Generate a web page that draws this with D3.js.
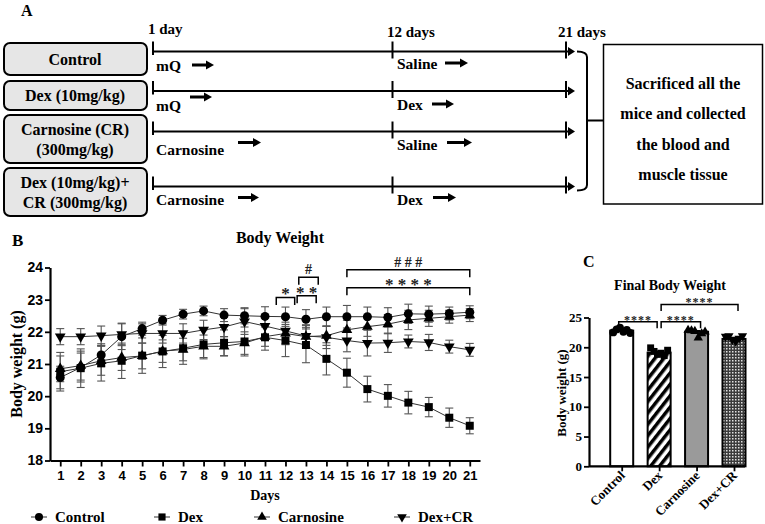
<!DOCTYPE html>
<html>
<head>
<meta charset="utf-8">
<script src="https://cdn.jsdelivr.net/npm/d3@7"></script>
<style>
  body { margin: 0; background: #fff; }
  svg { display: block; }
</style>
</head>
<body>
<div id="fig"></div>
<script>
// ---------- data ----------
const groupNames = [['Control'], ['Dex (10mg/kg)'], ['Carnosine  (CR)', '(300mg/kg)'], ['Dex (10mg/kg)+', 'CR (300mg/kg)']];
const phase1Labels = ['mQ', 'mQ', 'Carnosine', 'Carnosine'];
const phase2Labels = ['Saline', 'Dex', 'Saline', 'Dex'];
const timeLabels = ['1 day', '12 days', '21 days'];
const endNote = ['Sacrificed all the', 'mice and collected', 'the blood and', 'muscle tissue'];

const days = [1, 2, 3, 4, 5, 6, 7, 8, 9, 10, 11, 12, 13, 14, 15, 16, 17, 18, 19, 20, 21];
const yTicksB = [18, 19, 20, 21, 22, 23, 24];
const seriesNames = ['Control', 'Dex', 'Carnosine', 'Dex+CR'];
const controlMean = [20.58, 20.89, 21.28, 21.85, 22.1, 22.36, 22.55, 22.65, 22.52, 22.5, 22.48, 22.47, 22.39, 22.47, 22.47, 22.47, 22.45, 22.56, 22.55, 22.57, 22.61];
const controlErr = [0.35, 0.45, 0.35, 0.4, 0.2, 0.15, 0.15, 0.15, 0.2, 0.25, 0.3, 0.3, 0.3, 0.3, 0.35, 0.3, 0.3, 0.3, 0.25, 0.2, 0.2];
const dexMean = [20.76, 20.87, 21.02, 21.1, 21.26, 21.39, 21.49, 21.61, 21.66, 21.7, 21.83, 21.73, 21.59, 21.16, 20.73, 20.22, 20.01, 19.8, 19.66, 19.33, 19.08];
const dexErr = [0.6, 0.6, 0.55, 0.55, 0.55, 0.5, 0.5, 0.45, 0.4, 0.45, 0.4, 0.5, 0.55, 0.5, 0.45, 0.4, 0.35, 0.35, 0.3, 0.3, 0.25];
const carnMean = [20.85, 20.95, 21.1, 21.2, 21.25, 21.4, 21.45, 21.55, 21.55, 21.65, 21.85, 21.95, 21.85, 21.88, 22.06, 22.16, 22.24, 22.37, 22.42, 22.47, 22.52];
const carnErr = [0.4, 0.45, 0.45, 0.4, 0.4, 0.35, 0.35, 0.35, 0.3, 0.35, 0.3, 0.35, 0.35, 0.3, 0.3, 0.3, 0.3, 0.3, 0.25, 0.2, 0.2];
const dexcrMean = [21.85, 21.85, 21.88, 21.92, 21.95, 21.95, 21.95, 22.06, 22.15, 22.32, 22.18, 22.03, 21.87, 21.83, 21.73, 21.65, 21.66, 21.7, 21.67, 21.54, 21.44];
const dexcrErr = [0.25, 0.25, 0.3, 0.35, 0.3, 0.3, 0.3, 0.3, 0.3, 0.4, 0.35, 0.4, 0.35, 0.35, 0.35, 0.4, 0.3, 0.2, 0.25, 0.2, 0.2];
// significance marks: day span, bracket height (g), text
const sigB = [
  { from: 11.55, to: 12.45, at: 23.07, text: '*' },
  { from: 12.57, to: 13.5, at: 23.12, text: '* *' },
  { from: 12.65, to: 13.6, at: 23.7, text: '#' },
  { from: 15, to: 21, at: 23.37, text: '* * * *' },
  { from: 15, to: 21, at: 23.93, text: '# # #' }
];

const groupsC = ['Control', 'Dex', 'Carnosine', 'Dex+CR'];
const yTicksC = [0, 5, 10, 15, 20, 25];
const finalMean = [22.8, 19.1, 22.6, 21.4];
const finalErr = [0.15, 0.2, 0.2, 0.15];
const finalPoints = [
  [22.5, 23.0, 23.3, 22.6, 22.9, 22.4],
  [19.9, 19.3, 18.8, 19.0, 18.6, 19.5],
  [22.9, 22.8, 22.7, 21.6, 22.3, 22.6],
  [21.8, 21.9, 21.3, 21.0, 21.5, 21.9]
];
const sigC = [
  { a: 'Control', b: 'Dex', at: 24.3, text: '****' },
  { a: 'Dex', b: 'Carnosine', at: 24.3, text: '****' },
  { a: 'Dex', b: 'Dex+CR', at: 27.2, text: '****' }
];

// ---------- setup ----------
const W = 765, H = 524;
const serif = '"Liberation Serif", "Times New Roman", serif';
const sans = '"Liberation Sans", Arial, sans-serif';

const svg = d3.select('#fig').append('svg').attr('width', W).attr('height', H);
svg.append('rect').attr('width', W).attr('height', H).attr('fill', '#fff');

function boldText(sel, x, y, str, size, anchor, font) {
  return sel.append('text')
    .attr('x', x).attr('y', y)
    .attr('text-anchor', anchor || 'start')
    .style('font-family', font || serif)
    .style('font-weight', 'bold')
    .style('font-size', size + 'px')
    .attr('fill', '#000')
    .text(str);
}

function shortArrow(sel, x0, x1, y) {
  sel.append('line').attr('x1', x0).attr('x2', x1 - 6).attr('y1', y).attr('y2', y)
    .attr('stroke', '#000').attr('stroke-width', 3);
  sel.append('path').attr('d', `M${x1 - 8},${y - 4.5}L${x1},${y}L${x1 - 8},${y + 4.5}Z`).attr('fill', '#000');
}

// ---------- panel A ----------
const gA = svg.append('g');
boldText(gA, 21, 16, 'A', 16);

const boxRows = [[43, 75], [81, 110], [115, 163], [168, 216]];
const lineY = [51.5, 91, 131.5, 186.5];
const tStart = 153, tMid = 392.5, tEnd = 566;

boxRows.forEach((r, i) => {
  gA.append('rect').attr('x', 4).attr('y', r[0]).attr('width', 143).attr('height', r[1] - r[0])
    .attr('rx', 6).attr('fill', '#e6e6e6').attr('stroke', '#000').attr('stroke-width', 2);
  const lines = groupNames[i];
  const cy = (r[0] + r[1]) / 2;
  lines.forEach((t, j) => {
    boldText(gA, 75, cy + (j - (lines.length - 1) / 2) * 20 + 5.5, t, 16, 'middle');
  });
  const y = lineY[i];
  gA.append('line').attr('x1', tStart).attr('x2', tEnd + 4).attr('y1', y).attr('y2', y)
    .attr('stroke', '#000').attr('stroke-width', 2);
  gA.append('path').attr('d', `M${tEnd + 2},${y - 4.5}L${tEnd + 9},${y}L${tEnd + 2},${y + 4.5}Z`).attr('fill', '#000');
  gA.append('line').attr('x1', tStart).attr('x2', tStart).attr('y1', y - 10).attr('y2', y + 3.5)
    .attr('stroke', '#000').attr('stroke-width', 2);
  [tMid, tEnd].forEach((tx) => {
    gA.append('line').attr('x1', tx).attr('x2', tx).attr('y1', y - 10).attr('y2', y + 7)
      .attr('stroke', '#000').attr('stroke-width', 2);
  });
});

boldText(gA, 148, 34, timeLabels[0], 15);
boldText(gA, 387, 37, timeLabels[1], 15);
boldText(gA, 558, 37, timeLabels[2], 15);

const p1TextY = [70.5, 111, 154.5, 204.5];
const p1Arrow = [[192, 214, 65], [190, 212, 97], [238, 261, 142.5], [238, 259, 197.5]];
const p2TextY = [68.5, 110, 149.5, 204.5];
const p2Arrow = [[445, 468, 63], [432, 454, 104], [447, 472, 142.5], [433, 456, 197.5]];
phase1Labels.forEach((t, i) => {
  boldText(gA, 156, p1TextY[i], t, 15.5);
  shortArrow(gA, p1Arrow[i][0], p1Arrow[i][1], p1Arrow[i][2]);
});
phase2Labels.forEach((t, i) => {
  boldText(gA, 397, p2TextY[i], t, 15.5);
  shortArrow(gA, p2Arrow[i][0], p2Arrow[i][1], p2Arrow[i][2]);
});

// curly bracket to the end box
gA.append('path')
  .attr('d', 'M577,51.5 Q587,51.5 587,57 L587,185 Q587,190.5 577,190.5 M587,120.5 L603,120.5')
  .attr('fill', 'none').attr('stroke', '#000').attr('stroke-width', 2);
gA.append('rect').attr('x', 603.5).attr('y', 44.5).attr('width', 159).attr('height', 159.5)
  .attr('fill', 'none').attr('stroke', '#000').attr('stroke-width', 1.5);
endNote.forEach((t, i) => boldText(gA, 683, 89 + i * 30.3, t, 16, 'middle'));

// ---------- panel B ----------
const gB = svg.append('g');
boldText(gB, 12, 246, 'B', 17);
boldText(gB, 280, 242.5, 'Body Weight', 16, 'middle');

const xB = d3.scaleLinear().domain([0.5, 21.5]).range([50, 480]);
const yB = d3.scaleLinear().domain([18, 24]).range([460.5, 267.5]);

const axB = gB.append('g').attr('transform', 'translate(0,460.5)')
  .call(d3.axisBottom(xB).tickValues(days).tickFormat(d3.format('d')).tickSize(6).tickSizeOuter(0).tickPadding(4));
const ayB = gB.append('g').attr('transform', 'translate(50,0)')
  .call(d3.axisLeft(yB).tickValues(yTicksB).tickFormat(d3.format('d')).tickSize(5).tickSizeOuter(0).tickPadding(2));
[axB, ayB].forEach((a) => {
  a.select('.domain').attr('stroke-width', 2.2);
  a.selectAll('.tick line').attr('stroke-width', 1.8);
  a.selectAll('.tick text').style('font-family', sans).style('font-weight', 'bold')
    .style('font-size', '13px').attr('fill', '#000');
});
ayB.selectAll('.tick text').style('font-size', '14px');
boldText(gB, 265, 500, 'Days', 14, 'middle');
boldText(gB, 0, 0, 'Body weight (g)', 16, 'middle')
  .attr('transform', 'translate(22,364) rotate(-90)');

const seriesB = [
  { mean: dexcrMean, err: dexcrErr, sym: d3.symbolTriangle, size: 50, rot: 180 },
  { mean: carnMean, err: carnErr, sym: d3.symbolTriangle, size: 50, rot: 0 },
  { mean: dexMean, err: dexErr, sym: d3.symbolSquare, size: 64, rot: 0 },
  { mean: controlMean, err: controlErr, sym: d3.symbolCircle, size: 64, rot: 0 }
];

// error bars
seriesB.forEach((s) => {
  const eb = gB.append('g').attr('stroke', '#555').attr('stroke-width', 1.1);
  days.forEach((d, i) => {
    const x = xB(d), lo = yB(s.mean[i] - s.err[i]), hi = yB(s.mean[i] + s.err[i]);
    eb.append('line').attr('x1', x).attr('x2', x).attr('y1', lo).attr('y2', hi);
    eb.append('line').attr('x1', x - 4).attr('x2', x + 4).attr('y1', lo).attr('y2', lo);
    eb.append('line').attr('x1', x - 4).attr('x2', x + 4).attr('y1', hi).attr('y2', hi);
  });
});
// lines and markers
const lineGen = d3.line().x((d) => xB(d[0])).y((d) => yB(d[1]));
seriesB.forEach((s) => {
  gB.append('path').datum(days.map((d, i) => [d, s.mean[i]]))
    .attr('d', lineGen).attr('fill', 'none').attr('stroke', '#333').attr('stroke-width', 1);
});
seriesB.forEach((s) => {
  gB.selectAll(null).data(days.map((d, i) => [d, s.mean[i]])).enter().append('path')
    .attr('d', d3.symbol().type(s.sym).size(s.size))
    .attr('transform', (d) => `translate(${xB(d[0])},${yB(d[1])}) rotate(${s.rot})`)
    .attr('fill', '#000');
});

// significance brackets
sigB.forEach((m) => {
  const x0 = xB(m.from), x1 = xB(m.to), y = yB(m.at);
  gB.append('path').attr('d', `M${x0},${y + 7.5}V${y}H${x1}V${y + 7.5}`)
    .attr('fill', 'none').attr('stroke', '#000').attr('stroke-width', 1.5);
  const isHash = m.text.indexOf('#') >= 0;
  boldText(gB, (x0 + x1) / 2, isHash ? y - 3 : y + 2, m.text, isHash ? 14 : 17, 'middle')
    .attr('fill', '#222');
});

// legend
const legendMarkX = [39, 162, 262, 402];
const legendSyms = [seriesB[3], seriesB[2], seriesB[1], seriesB[0]];
seriesNames.forEach((n, i) => {
  const x = legendMarkX[i], y = 517;
  gB.append('line').attr('x1', x - 8).attr('x2', x + 8).attr('y1', y).attr('y2', y)
    .attr('stroke', '#333').attr('stroke-width', 1);
  gB.append('path').attr('d', d3.symbol().type(legendSyms[i].sym).size(legendSyms[i].size * 0.8))
    .attr('transform', `translate(${x},${y}) rotate(${legendSyms[i].rot})`).attr('fill', '#000');
  boldText(gB, x + 16, y + 5, n, 15);
});

// ---------- panel C ----------
const gC = svg.append('g');
boldText(gC, 583, 267, 'C', 16);
boldText(gC, 670, 290, 'Final Body Weight', 14, 'middle');

const defs = svg.append('defs');
const stripes = defs.append('pattern').attr('id', 'stripes').attr('patternUnits', 'userSpaceOnUse')
  .attr('width', 7).attr('height', 7).attr('patternTransform', 'rotate(38)');
stripes.append('rect').attr('width', 7).attr('height', 7).attr('fill', '#fff');
stripes.append('rect').attr('width', 3.5).attr('height', 7).attr('fill', '#000');
const checks = defs.append('pattern').attr('id', 'checks').attr('patternUnits', 'userSpaceOnUse')
  .attr('width', 3).attr('height', 3);
checks.append('rect').attr('width', 3).attr('height', 3).attr('fill', '#3a3a3a');
checks.append('rect').attr('width', 1.5).attr('height', 1.5).attr('fill', '#e0e0e0');

const barFill = ['#fff', 'url(#stripes)', '#9a9a9a', 'url(#checks)'];
const pointSyms = [seriesB[3], seriesB[2], seriesB[1], seriesB[0]];

const xC = d3.scalePoint().domain(groupsC).range([621.7, 734]);
const yC = d3.scaleLinear().domain([0, 25]).range([466.3, 317.5]);
const barW = 23;

gC.selectAll('.bar').data(groupsC).enter().append('rect')
  .attr('class', 'bar')
  .attr('x', (d) => xC(d) - barW / 2)
  .attr('y', (d, i) => yC(finalMean[i]))
  .attr('width', barW)
  .attr('height', (d, i) => yC(0) - yC(finalMean[i]))
  .attr('fill', (d, i) => barFill[i])
  .attr('stroke', '#000').attr('stroke-width', 2);

groupsC.forEach((g, i) => {
  const x = xC(g);
  const lo = yC(finalMean[i] - finalErr[i]), hi = yC(finalMean[i] + finalErr[i]);
  gC.append('path').attr('d', `M${x},${lo}V${hi}M${x - 4},${hi}H${x + 4}`)
    .attr('stroke', '#000').attr('stroke-width', 1.2).attr('fill', 'none');
  const pts = finalPoints[i];
  gC.selectAll(null).data(pts).enter().append('path')
    .attr('d', d3.symbol().type(pointSyms[i].sym).size(pointSyms[i].size * 0.75))
    .attr('transform', (v, j) => `translate(${x + (j - (pts.length - 1) / 2) * 3.4},${yC(v)}) rotate(${pointSyms[i].rot})`)
    .attr('fill', '#000');
});

const axC = gC.append('g').attr('transform', `translate(0,${yC(0)})`)
  .call(d3.axisBottom(xC).tickSize(5).tickSizeOuter(0).tickFormat(''));
axC.select('.domain').remove();
axC.selectAll('.tick line').attr('stroke-width', 1.8);
gC.append('line').attr('x1', 589).attr('x2', 745).attr('y1', yC(0)).attr('y2', yC(0))
  .attr('stroke', '#000').attr('stroke-width', 2.2);
groupsC.forEach((g) => {
  boldText(gC, 0, 0, g, 13, 'end')
    .attr('transform', `translate(${xC(g) + 4},${yC(0) + 10}) rotate(-45)`);
});

const ayC = gC.append('g').attr('transform', 'translate(589,0)')
  .call(d3.axisLeft(yC).tickValues(yTicksC).tickSize(5).tickSizeOuter(0).tickPadding(2));
ayC.select('.domain').attr('stroke-width', 2.2);
ayC.selectAll('.tick line').attr('stroke-width', 1.8);
ayC.selectAll('.tick text').style('font-family', serif).style('font-weight', 'bold')
  .style('font-size', '13px').attr('fill', '#000');
boldText(gC, 0, 0, 'Body weight (g)', 13, 'middle')
  .attr('transform', 'translate(566,393) rotate(-90)');

sigC.forEach((m) => {
  const x0 = xC(m.a) + (m.a === 'Dex' ? 2 : -3), x1 = xC(m.b) + (m.b === 'Dex' ? -2 : 4);
  const y = yC(m.at);
  gC.append('path').attr('d', `M${x0},${y + 6.5}V${y}H${x1}V${y + 6.5}`)
    .attr('fill', 'none').attr('stroke', '#000').attr('stroke-width', 1.5);
  boldText(gC, (x0 + x1) / 2, y + 2, m.text, 12, 'middle')
    .attr('fill', '#222').style('letter-spacing', '1px');
});
</script>
</body>
</html>
